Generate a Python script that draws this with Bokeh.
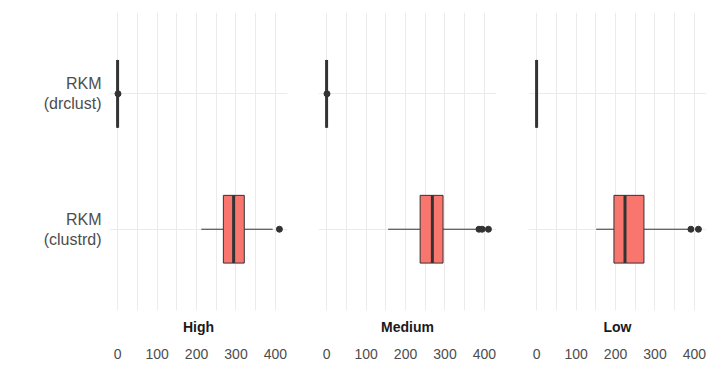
from bokeh.plotting import figure
from bokeh.layouts import row
from bokeh.models import Range1d, FixedTicker, LinearAxis, ColumnDataSource
from bokeh.embed import file_html
from bokeh.resources import INLINE

facets = ["High", "Medium", "Low"]
method_labels = ["RKM\n(clustrd)", "RKM\n(drclust)"]  # bottom to top
method_pos = [1, 2]
x_ticks = [0, 100, 200, 300, 400]
x_minor = [50, 150, 250, 350, 450]

# box statistics per facet (High, Medium, Low)
clustrd_lower = [212, 156, 151]
clustrd_q1 = [268, 237, 196]
clustrd_median = [294, 268, 224]
clustrd_q3 = [321, 295, 272]
clustrd_upper = [393, 378, 384]
clustrd_outliers = [[410], [386, 394, 410], [391, 410]]

drclust_lower = [0, 0, 0]
drclust_q1 = [0, 0, 0]
drclust_median = [0, 0, 0]
drclust_q3 = [0, 0, 0]
drclust_upper = [0, 0, 0]
drclust_outliers = [[1], [1], []]

x_min, x_max = 0, 410
pad = 0.05 * (x_max - x_min)

FILL = "#F8766D"
DARK = "#333333"
GRID = "#EBEBEB"
FONT = "Liberation Sans"

widths = [302, 210, 201]
borders = [(109, 15), (16, 16), (16, 7)]

figs = []
for i, facet in enumerate(facets):
    ml, mr = borders[i]
    p = figure(width=widths[i], height=370, output_backend="svg", toolbar_location=None,
               x_range=Range1d(x_min - pad, x_max + pad), y_range=Range1d(0.4, 2.6),
               min_border_left=ml, min_border_right=mr, min_border_top=12, min_border_bottom=60)
    p.outline_line_color = None

    stats = [
        (method_pos[0], clustrd_lower[i], clustrd_q1[i], clustrd_median[i], clustrd_q3[i], clustrd_upper[i], clustrd_outliers[i]),
        (method_pos[1], drclust_lower[i], drclust_q1[i], drclust_median[i], drclust_q3[i], drclust_upper[i], drclust_outliers[i]),
    ]
    src = ColumnDataSource(dict(
        y=[s[0] for s in stats],
        lo=[s[1] for s in stats], q1=[s[2] for s in stats], med=[s[3] for s in stats],
        q3=[s[4] for s in stats], hi=[s[5] for s in stats],
        bot=[s[0] - 0.25 for s in stats], top=[s[0] + 0.25 for s in stats],
    ))
    p.segment(x0="lo", y0="y", x1="q1", y1="y", source=src, line_color=DARK, line_width=1)
    p.segment(x0="q3", y0="y", x1="hi", y1="y", source=src, line_color=DARK, line_width=1)
    p.quad(left="q1", right="q3", bottom="bot", top="top", source=src,
           fill_color=FILL, line_color=DARK, line_width=1)
    p.segment(x0="med", y0="bot", x1="med", y1="top", source=src, line_color=DARK, line_width=3)
    ox, oy = [], []
    for s in stats:
        for o in s[6]:
            ox.append(o)
            oy.append(s[0])
    if ox:
        p.scatter(ox, oy, size=6, color=DARK)

    # strip label axis (first below axis, closest to frame)
    ax1 = p.xaxis[0]
    ax1.ticker = FixedTicker(ticks=[])
    ax1.axis_label = facet
    ax1.axis_label_text_font = FONT
    ax1.axis_label_text_font_style = "bold"
    ax1.axis_label_text_font_size = "14px"
    ax1.axis_label_text_color = "#1A1A1A"
    ax1.axis_label_standoff = 8
    ax1.axis_line_color = None
    ax1.major_tick_line_color = None
    ax1.minor_tick_line_color = None
    ax1.major_tick_out = 0
    ax1.minor_tick_out = 0
    ax1.major_label_standoff = 0
    ax1.major_label_text_font_size = "0px"

    ax2 = LinearAxis(ticker=FixedTicker(ticks=x_ticks))
    ax2.axis_line_color = None
    ax2.major_tick_line_color = None
    ax2.minor_tick_line_color = None
    ax2.major_tick_out = 0
    ax2.minor_tick_out = 0
    ax2.major_label_standoff = 11
    ax2.major_label_text_font = FONT
    ax2.major_label_text_font_size = "14px"
    ax2.major_label_text_color = "#4D4D4D"
    p.add_layout(ax2, "below")

    p.xgrid.ticker = FixedTicker(ticks=x_ticks, minor_ticks=x_minor)
    p.xgrid.grid_line_color = GRID
    p.xgrid.grid_line_width = 1
    p.xgrid.minor_grid_line_color = GRID
    p.xgrid.minor_grid_line_width = 1

    yax = p.yaxis[0]
    yax.ticker = FixedTicker(ticks=method_pos)
    yax.major_label_overrides = {method_pos[0]: method_labels[0], method_pos[1]: method_labels[1]}
    yax.axis_line_color = None
    yax.major_tick_line_color = None
    yax.minor_tick_line_color = None
    yax.major_tick_out = 0
    yax.minor_tick_out = 0
    yax.major_label_standoff = 8
    yax.major_label_text_font = FONT
    yax.major_label_text_font_size = "16px"
    yax.major_label_text_color = "#4D4D4D"
    if i > 0:
        yax.visible = False
    p.ygrid.ticker = FixedTicker(ticks=method_pos)
    p.ygrid.grid_line_color = GRID
    p.ygrid.grid_line_width = 1

    figs.append(p)

layout = row(*figs)
open("out.html", "w").write(file_html(layout, INLINE))
